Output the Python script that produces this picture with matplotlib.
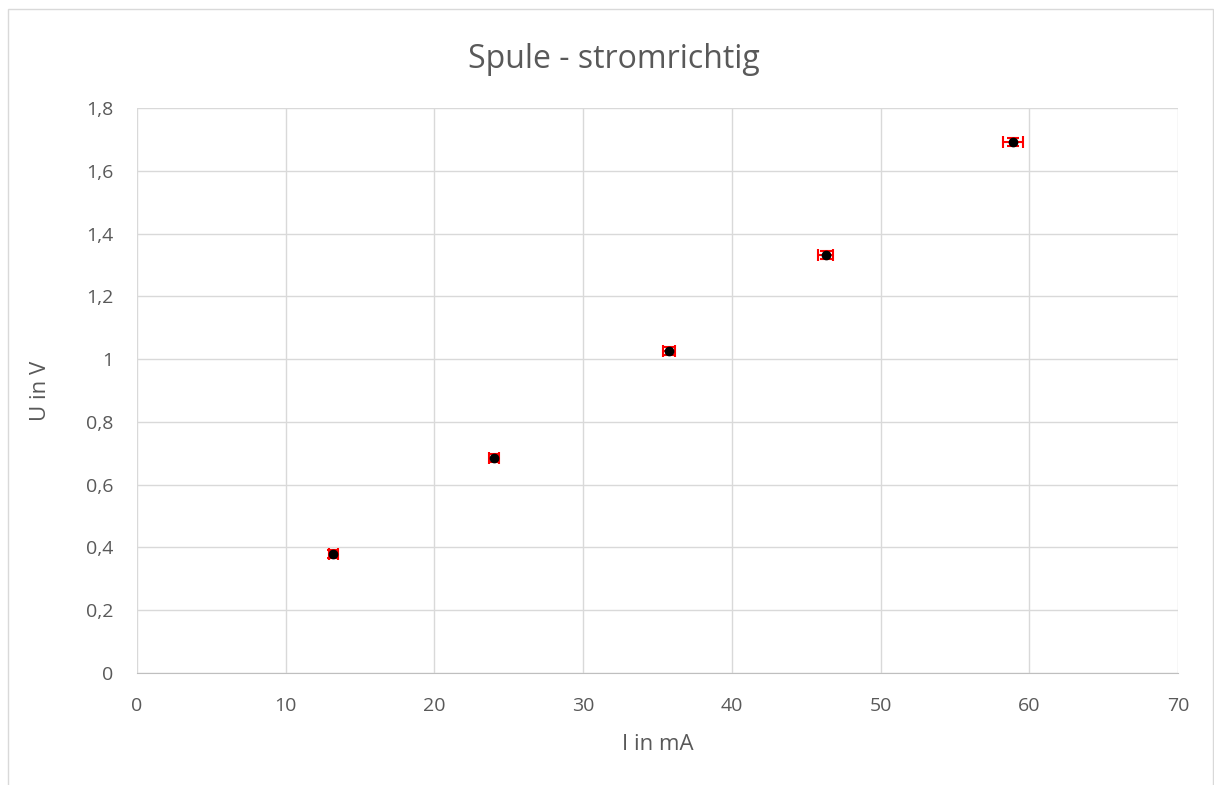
import matplotlib
matplotlib.use("Agg")
import matplotlib.pyplot as plt
from matplotlib.patches import Rectangle
from matplotlib.ticker import FuncFormatter

plt.rcParams['font.family'] = ['Open Sans', 'DejaVu Sans']

# Messwerte
strom_mA = [13.2, 24.0, 35.8, 46.3, 58.9]
spannung_V = [0.378, 0.686, 1.026, 1.332, 1.691]
strom_fehler = [0.3, 0.35, 0.4, 0.5, 0.65]
spannung_fehler = [0.013, 0.013, 0.013, 0.013, 0.013]

x_ticks = [0, 10, 20, 30, 40, 50, 60, 70]
y_ticks = [0, 0.2, 0.4, 0.6, 0.8, 1.0, 1.2, 1.4, 1.6, 1.8]

fig = plt.figure(figsize=(12.14, 7.85), dpi=100)
# Rahmen des Diagramms
fig.patches.append(Rectangle((8 / 1214, -0.01), 1 - 8 / 1214 - 0.0005, 1 - 9 / 785 + 0.01,
                             transform=fig.transFigure, fill=False,
                             edgecolor='#d9d9d9', linewidth=1.0))

ax = fig.add_axes([137 / 1214, 1 - 673 / 785, (1178 - 137) / 1214, (673 - 108) / 785])

ax.errorbar(strom_mA, spannung_V, xerr=strom_fehler, yerr=spannung_fehler,
            fmt='o', color='black', markersize=6, ecolor='red',
            elinewidth=1.5, capsize=4.3, capthick=1.5, zorder=3)

ax.set_xlim(0, 70)
ax.set_ylim(0, 1.8)
ax.set_xticks(x_ticks)
ax.set_yticks(y_ticks)


def komma(v, pos):
    s = ('%.1f' % v).rstrip('0').rstrip('.')
    return s.replace('.', ',')


ax.yaxis.set_major_formatter(FuncFormatter(komma))
ax.grid(True, color='#d9d9d9', linewidth=1.0)
ax.set_axisbelow(True)
for s in ['top', 'right', 'left']:
    ax.spines[s].set_visible(False)
ax.spines['bottom'].set_color('#bfbfbf')
ax.tick_params(length=0, labelsize=14, labelcolor='#595959')
ax.tick_params(axis='x', pad=17)
ax.tick_params(axis='y', pad=17)

fig.text(614 / 1214, 1 - 60 / 785, 'Spule - stromrichtig', fontsize=23,
         color='#595959', ha='center', va='center')
ax.set_xlabel('I in mA', fontsize=16, color='#595959', labelpad=14)
ax.set_ylabel('U in V', fontsize=16, color='#595959', labelpad=25)

fig.savefig('out.png', dpi=100)
